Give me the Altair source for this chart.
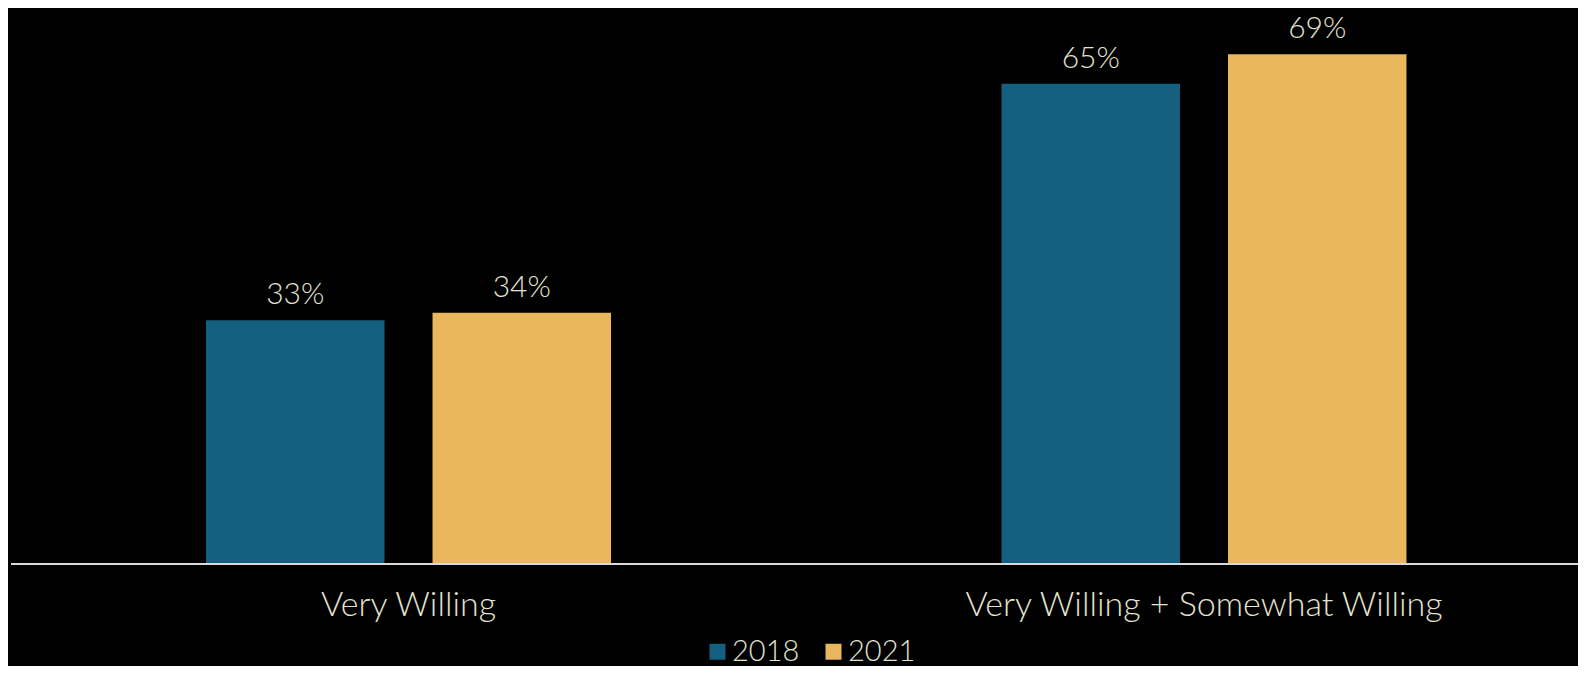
import altair as alt
import pandas as pd

categories = ["Very Willing", "Very Willing + Somewhat Willing"]
years = ["2018", "2021"]
values_2018 = [33, 65]
values_2021 = [34, 69]
colors = ["#155F80", "#EAB65E"]

rows = []
for c, v18, v21 in zip(categories, values_2018, values_2021):
    rows.append({"category": c, "year": years[0], "value": v18, "label": f"{v18}%"})
    rows.append({"category": c, "year": years[1], "value": v21, "label": f"{v21}%"})
df = pd.DataFrame(rows)

TEXT = "#E3E3D1"
FONT = "Lato"
W, H = 1567, 554

x = alt.X("category:N", sort=categories, title=None,
          scale=alt.Scale(range=[171, 1419.5], paddingInner=0.4305, paddingOuter=0),
          axis=alt.Axis(domain=False, ticks=False, labelAngle=0, labelFontSize=34,
                        labelColor=TEXT, labelFont=FONT, labelFontWeight=300,
                        labelPadding=24, labelLimit=0))
xo = alt.XOffset("year:N", sort=years,
                 scale=alt.Scale(paddingInner=0.212, paddingOuter=0.106))
y = alt.Y("value:Q", scale=alt.Scale(domain=[0, 75], nice=False), axis=None)

base = alt.Chart(df).encode(x=x, xOffset=xo, y=y)

bars = base.mark_bar().encode(
    color=alt.Color("year:N", sort=years,
                    scale=alt.Scale(domain=years, range=colors),
                    legend=alt.Legend(title=None, orient="none", direction="horizontal",
                                      legendX=692, legendY=627, padding=0,
                                      symbolType="square", symbolSize=256,
                                      symbolStrokeWidth=0, labelFontSize=29,
                                      labelColor=TEXT, labelFont=FONT,
                                      labelFontWeight=300, labelOffset=0,
                                      columnPadding=19))
)

labels = base.mark_text(baseline="alphabetic", dy=-16, fontSize=30, font=FONT,
                        fontWeight=300, color=TEXT).encode(text="label:N")

baseline_df = pd.DataFrame({"k": [0]})
rule = alt.Chart(baseline_df).mark_rule(color="#D9D9D9", strokeWidth=2).encode(
    x=alt.value(0), x2=alt.value(W), y=alt.value(H)
)

chart = alt.layer(bars, labels, rule).properties(
    width=W, height=H, background="#000000",
    padding={"left": 3, "top": 2, "right": 0, "bottom": 102},
    autosize=alt.AutoSizeParams(type="none"),
).configure_view(stroke=None)

chart.save("out.html", embed_options={"renderer": "svg", "actions": False})
